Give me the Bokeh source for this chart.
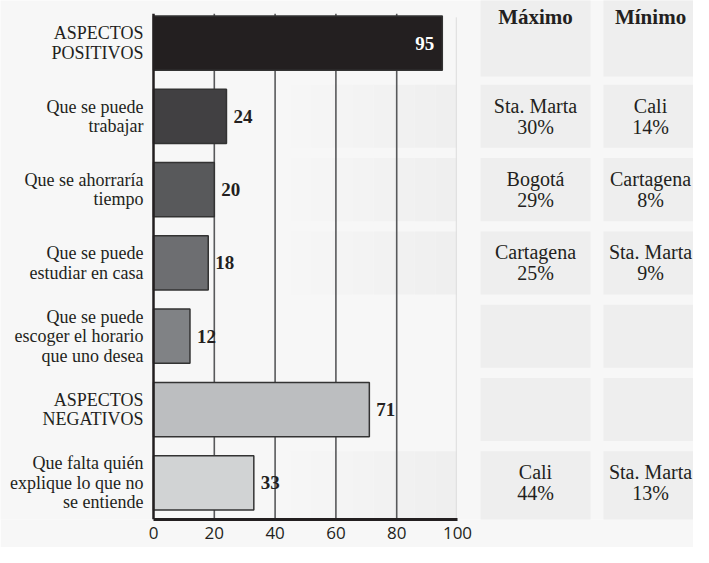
from bokeh.plotting import figure
from bokeh.models import Range1d, FixedTicker, ColumnDataSource
from bokeh.core.properties import value
from bokeh.embed import file_html
from bokeh.resources import INLINE

# ---------------- data ----------------
categories = [
    "ASPECTOS\nPOSITIVOS",
    "Que se puede\ntrabajar",
    "Que se ahorraría\ntiempo",
    "Que se puede\nestudiar en casa",
    "Que se puede\nescoger el horario\nque uno desea",
    "ASPECTOS\nNEGATIVOS",
    "Que falta quién\nexplique lo que no\nse entiende",
]
values = [95, 24, 20, 18, 12, 71, 33]
bar_colors = ["#231f20", "#414042", "#58595b", "#6d6e71", "#808285", "#bcbec0", "#d1d3d4"]

table_headers = ["Máximo", "Mínimo"]
max_city = ["Sta. Marta", "Bogotá", "Cartagena", "", "", "Cali"]
max_pct = ["30%", "29%", "25%", "", "", "44%"]
min_city = ["Cali", "Cartagena", "Sta. Marta", "", "", "Sta. Marta"]
min_pct = ["14%", "8%", "9%", "", "", "13%"]

x_ticks = [0, 20, 40, 60, 80, 100]
grid_ticks = [20, 40, 60, 80]

# ---------------- styling / layout ----------------
SERIF = "Liberation Serif"
TEXT = "#231f20"
BG = "#f7f7f7"
CELL = "#eeeeee"

rows = list(range(len(categories)))
Y_TOP, Y_BOT = -0.58, 6.50
AXIS_TOP = -0.40
col_max = (107.6, 143.75)
col_min = (148.0, 184.2)
max_cx = 125.66
min_cx = 163.5

p = figure(width=693, height=547, output_backend="svg", toolbar_location=None,
           x_range=Range1d(-50.33, 177.63), y_range=Range1d(Y_BOT, Y_TOP),
           y_axis_location=None, min_border=0, min_border_bottom=28)
p.background_fill_color = BG
p.border_fill_color = BG
p.outline_line_color = None
p.ygrid.visible = False
p.xgrid.visible = False

# table cells
cell_tops, cell_bottoms = [], []
for i in rows:
    top, bot = i - 0.43, i + 0.43
    if i == 0:
        top, bot = -0.8, 0.457
    if i == rows[-1]:
        bot = i + 0.76
    cell_tops.append(top)
    cell_bottoms.append(bot)
for (l, r) in (col_max, col_min):
    p.quad(left=[l] * len(rows), right=[r] * len(rows), top=cell_tops, bottom=cell_bottoms,
           fill_color=CELL, line_color=None, level="image")

# faint gradient bands for rows that hold table data
data_rows = [i + 1 for i, c in enumerate(max_city) if c]
steps = 8
x0, x1 = 45.0, 99.6
c0, c1 = (0xf7, 0xf7, 0xf7), (0xee, 0xee, 0xee)
for s in range(steps):
    t = (s + 0.5) / steps
    col = "#%02x%02x%02x" % tuple(int(round(a + (b - a) * t)) for a, b in zip(c0, c1))
    l = x0 + (x1 - x0) * s / steps
    r = x0 + (x1 - x0) * (s + 1) / steps
    p.quad(left=[l] * len(data_rows), right=[r] * len(data_rows),
           top=[cell_tops[i] for i in data_rows], bottom=[cell_bottoms[i] for i in data_rows],
           fill_color=col, line_color=None, level="image")

# light right border of the chart panel
p.segment(x0=[99.6], x1=[99.6], y0=[-0.35], y1=[Y_BOT], line_color="#dcdcdc",
          line_width=1, level="image")

# vertical grid lines
p.segment(x0=grid_ticks, x1=grid_ticks, y0=[AXIS_TOP] * len(grid_ticks),
          y1=[Y_BOT] * len(grid_ticks), line_color="#58595b", line_width=1.6,
          level="underlay")

# bars
src = ColumnDataSource(dict(y=rows, v=values, c=bar_colors, cat=categories))
p.hbar(y="y", left=0, right="v", height=0.74, fill_color="c", line_color="#333333",
       line_width=1.5, source=src)

# y axis line
p.segment(x0=[0], x1=[0], y0=[AXIS_TOP], y1=[Y_BOT], line_color=TEXT, line_width=2.5)

# category labels
p.text(x=-3.3, y="y", text="cat", source=src, text_align="right", text_baseline="middle",
       text_font=value(SERIF), text_font_size="18px", text_color=TEXT, text_line_height=0.98)

# value labels
inside = ColumnDataSource(dict(y=rows[:1], v=values[:1], lab=[str(v) for v in values[:1]]))
outside = ColumnDataSource(dict(y=rows[1:], v=values[1:], lab=[str(v) for v in values[1:]]))
p.text(x="v", y="y", text="lab", source=inside, x_offset=-8, text_align="right",
       text_baseline="middle", text_font=value(SERIF), text_font_style="bold",
       text_font_size="19px", text_color="white")
p.text(x="v", y="y", text="lab", source=outside, x_offset=7, text_align="left",
       text_baseline="middle", text_font=value(SERIF), text_font_style="bold",
       text_font_size="19px", text_color=TEXT)

# table header
p.text(x=[max_cx, min_cx], y=[-0.35, -0.35], text=table_headers, text_align="center",
       text_baseline="middle", text_font=value(SERIF), text_font_style="bold",
       text_font_size="21px", text_color=TEXT)

# table content
max_txt = [f"{c}\n{v}" if c else "" for c, v in zip(max_city, max_pct)]
min_txt = [f"{c}\n{v}" if c else "" for c, v in zip(min_city, min_pct)]
trow = rows[1:]
p.text(x=[max_cx] * len(trow), y=trow, text=max_txt, text_align="center",
       text_baseline="middle", text_font=value(SERIF), text_font_size="20px",
       text_color=TEXT, text_line_height=0.95)
p.text(x=[min_cx] * len(trow), y=trow, text=min_txt, text_align="center",
       text_baseline="middle", text_font=value(SERIF), text_font_size="20px",
       text_color=TEXT, text_line_height=0.95)

# x axis
ax = p.xaxis[0]
ax.ticker = FixedTicker(ticks=x_ticks)
ax.bounds = (0, 100)
ax.axis_line_color = TEXT
ax.axis_line_width = 3
ax.major_tick_line_color = None
ax.minor_tick_line_color = None
ax.major_label_standoff = 1
ax.major_label_text_font = "Open Sans"
ax.major_label_text_font_size = "17px"
ax.major_label_text_color = TEXT

open("out.html", "w").write(file_html(p, INLINE))
